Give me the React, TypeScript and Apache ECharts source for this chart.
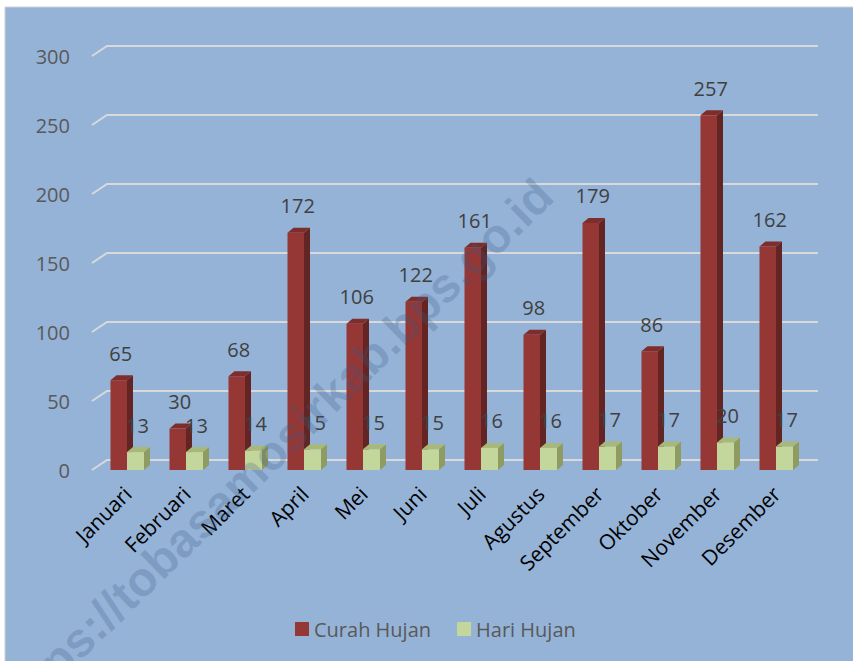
import React, { useEffect, useRef } from "react";
import * as echarts from "echarts";

const months = ["Januari", "Februari", "Maret", "April", "Mei", "Juni", "Juli", "Agustus", "September", "Oktober", "November", "Desember"];
const curahHujan = [65, 30, 68, 172, 106, 122, 161, 98, 179, 86, 257, 162];
const hariHujan = [13, 13, 14, 15, 15, 15, 16, 16, 17, 17, 20, 17];
const yTicks = [0, 50, 100, 150, 200, 250, 300];

const FONT = "'Open Sans', 'Noto Sans', sans-serif";

function makeBarRenderer(off0: number, off1: number, front: string, side: string, top: string) {
  return (params: any, api: any) => {
    const idx = api.value(0);
    const v = api.value(1);
    const base = api.coord([idx, 0]);
    const tp = api.coord([idx, v]);
    const c = base[0];
    const x0 = c + off0;
    const x1 = c + off1;
    const yB = base[1];
    const yT = tp[1];
    const dx = 6;
    const dy = -5;
    return {
      type: "group",
      children: [
        {
          type: "polygon",
          shape: { points: [[x1, yB], [x1 + dx, yB + dy], [x1 + dx, yT + dy], [x1, yT]] },
          style: { fill: side },
        },
        {
          type: "polygon",
          shape: { points: [[x0, yT], [x0 + dx, yT + dy], [x1 + dx, yT + dy], [x1, yT]] },
          style: { fill: top },
        },
        {
          type: "rect",
          shape: { x: x0, y: yT, width: x1 - x0, height: yB - yT },
          style: { fill: front },
        },
        {
          type: "text",
          x: (x0 + x1) / 2 + 2,
          y: yT - 27,
          style: {
            text: String(v),
            fill: "#404040",
            font: `20px ${FONT}`,
            align: "center",
            verticalAlign: "middle",
          },
          z2: 10,
        },
      ],
    };
  };
}

export default function App() {
  const ref = useRef<HTMLDivElement>(null);

  useEffect(() => {
    if (!ref.current) return;
    const chart = echarts.init(ref.current, null, { renderer: "svg" });
    const option: any = {
      animation: false,
      backgroundColor: "#ffffff",
      textStyle: { fontFamily: FONT },
      graphic: [
        {
          type: "rect",
          z: -10,
          shape: { x: 5, y: 7, width: 853, height: 661 },
          style: { fill: "#95B3D7", stroke: "#D0D0D0", lineWidth: 1 },
        },
        {
          type: "text",
          z: 100,
          x: 274,
          y: 450,
          rotation: 0.77,
          style: {
            text: "https://tobasamosirkab.bps.go.id",
            font: `bold 48px 'Liberation Sans', Arial, sans-serif`,
            fill: "rgba(60,90,130,0.25)",
            align: "center",
            verticalAlign: "middle",
          },
        },
      ],
      legend: {
        data: ["Curah Hujan", "Hari Hujan"],
        left: 290,
        top: 614,
        icon: "rect",
        itemWidth: 14,
        itemHeight: 14,
        itemGap: 26,
        textStyle: { color: "#595959", fontSize: 20, fontFamily: FONT },
      },
      grid: { left: 98, right: 47, top: 56, bottom: 191 },
      xAxis: {
        type: "category",
        data: months,
        axisLine: { show: false },
        axisTick: { show: false },
        axisLabel: {
          rotate: 45,
          margin: 20,
          interval: 0,
          color: "#000000",
          fontSize: 21,
          fontFamily: FONT,
        },
      },
      yAxis: {
        type: "value",
        min: 0,
        max: 300,
        interval: 50,
        splitLine: { show: false },
        axisLine: { show: false },
        axisTick: { show: false },
        axisLabel: { margin: 28, color: "#595959", fontSize: 20, fontFamily: FONT },
      },
      series: [
        {
          type: "custom",
          name: "grid",
          silent: true,
          clip: false,
          z: 1,
          data: yTicks.map((v) => [0, v]),
          encode: { x: 0, y: 1 },
          renderItem: (params: any, api: any) => {
            const cs = params.coordSys;
            const y = api.coord([0, api.value(1)])[1];
            return {
              type: "polyline",
              shape: {
                points: [
                  [cs.x - 6, y],
                  [cs.x + 9, y - 10],
                  [cs.x + cs.width + 12, y - 10],
                ],
              },
              style: { stroke: "#D9D9D9", lineWidth: 2, fill: "none" },
            };
          },
        },
        {
          type: "custom",
          name: "Curah Hujan",
          clip: false,
          z: 3,
          itemStyle: { color: "#953735" },
          data: curahHujan.map((v, i) => [i, v]),
          encode: { x: 0, y: 1 },
          renderItem: makeBarRenderer(-17, -0.5, "#953735", "#632523", "#7E2D2B"),
        },
        {
          type: "custom",
          name: "Hari Hujan",
          clip: false,
          z: 4,
          itemStyle: { color: "#C3D69B" },
          data: hariHujan.map((v, i) => [i, v]),
          encode: { x: 0, y: 1 },
          renderItem: makeBarRenderer(-0.5, 16.5, "#C3D69B", "#8E9C62", "#A8B878"),
        },
      ],
    };
    chart.setOption(option);
    return () => chart.dispose();
  }, []);

  return (
    <div style={{ position: "fixed", left: 0, top: 0, width: 853, height: 661, margin: 0 }}>
      <div ref={ref} style={{ width: 853, height: 661 }} />
    </div>
  );
}
